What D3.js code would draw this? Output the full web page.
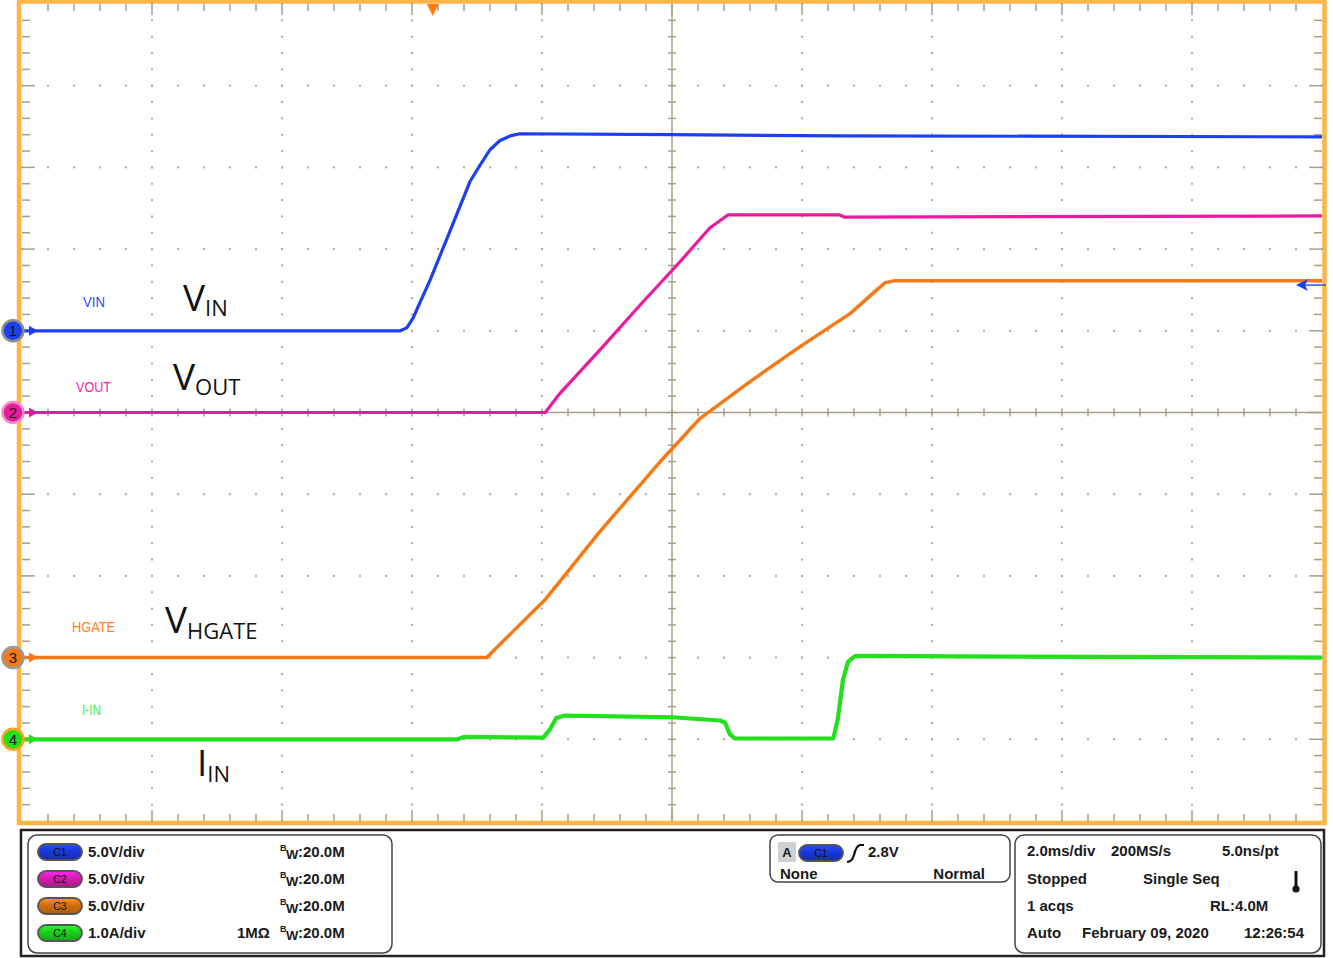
<!DOCTYPE html>
<html><head><meta charset="utf-8">
<script src="https://cdn.jsdelivr.net/npm/d3@7"></script>
<style>body{margin:0;background:#fff}svg{display:block}</style>
</head><body>
<svg id="c" width="1333" height="958"></svg>
<script>
// ---- data (time in ms, value in channel units) ----
const vinT  = [-10,-4.18,-4.08,-3.98,-3.88,-3.72,-3.42,-3.11,-2.95,-2.80,-2.65,-2.49,-2.34,0,2.58,10];
const vinV  = [0,0,0.18,0.80,1.71,3.12,6.06,9.12,10.16,11.08,11.63,11.93,12.06,12.0,11.93,11.87];
const voutT = [-10,-1.95,-1.85,-1.72,-1.08,-0.49,0.12,0.58,0.86,2.58,2.65,10];
const voutV = [0,0,0.52,1.19,3.95,6.58,9.21,11.29,12.09,12.09,11.96,12.03];
const hgT   = [-10,-2.85,-2.65,-1.95,-1.11,-0.18,0.43,1.2,1.97,2.74,3.12,3.28,3.43,10];
const hgV   = [0,0,0.80,3.55,7.71,12.0,14.63,16.89,19.03,21.05,22.40,22.95,23.07,23.07];
const iinT  = [-10,-3.3,-3.2,-1.98,-1.88,-1.78,-1.65,0,0.74,0.82,0.89,0.97,2.48,2.55,2.63,2.71,2.82,10];
const iinA  = [0,0,0.03,0.02,0.12,0.26,0.29,0.27,0.23,0.20,0.06,0.01,0.01,0.24,0.73,0.95,1.02,1.0];
const chNames   = ["VIN","VOUT","HGATE","I-IN"];
const chScale   = [5,5,5,1];        // units per division
const chOffset  = [1,0,-3,-4];      // divisions
const chColors  = ["#1e3ff0","#ea1a9e","#f57a16","#22e01c"];
const lblColors = ["#2b4dff","#ff22a8","#ff7f22","#3cef3c"];
const bigLabels = [["V","IN"],["V","OUT"],["V","HGATE"],["I","IN"]];
const chSettings = ["5.0V/div","5.0V/div","5.0V/div","1.0A/div"];
const bwText = "20.0M";
const trigLevel = "2.8V";
const timeRow1 = ["2.0ms/div","200MS/s","5.0ns/pt"];
const statRows = [["Stopped","Single Seq"],["1 acqs","RL:4.0M"],["Auto","February 09, 2020","12:26:54"]];

const svg = d3.select("#c");
const X0=22, X1=1322, Y0=4, Y1=821;
const x = d3.scaleLinear().domain([-10,10]).range([X0,X1]);
const y = d3.scaleLinear().domain([-5,5]).range([Y1,Y0]);
const gridC = "#a89f86";

// plot frame
svg.append("rect").attr("x",X0-3).attr("y",Y0-2.5).attr("width",X1-X0+5.5).attr("height",Y1-Y0+4.5)
  .attr("fill","#fff").attr("stroke","#ffb446").attr("stroke-width",4.5);

const g = svg.append("g");
// dotted grid
const minorX = d3.range(-10,10.001,0.4), minorY = d3.range(-5,5.001,0.2);
for (let d=-8; d<=8; d+=2) if (d!==0) {
  minorY.forEach(v=>g.append("rect").attr("x",x(d)-1).attr("y",y(v)-1).attr("width",2).attr("height",2).attr("fill","#b3ab94"));
}
for (let d=-4; d<=4; d+=1) if (d!==0) {
  minorX.forEach(v=>g.append("rect").attr("x",x(v)-1).attr("y",y(d)-1).attr("width",2).attr("height",2).attr("fill","#b3ab94"));
}
// edge ticks
minorX.forEach((v,i)=>{
  if (v<=-10||v>=10) return;
  const major = Math.abs(v/2-Math.round(v/2))<1e-6;
  const L = major?11:7;
  g.append("line").attr("x1",x(v)).attr("x2",x(v)).attr("y1",Y0).attr("y2",Y0+L).attr("stroke",gridC).attr("stroke-width",1.5);
  g.append("line").attr("x1",x(v)).attr("x2",x(v)).attr("y1",Y1).attr("y2",Y1-L).attr("stroke",gridC).attr("stroke-width",1.5);
  g.append("line").attr("x1",x(v)).attr("x2",x(v)).attr("y1",y(0)-4).attr("y2",y(0)+4).attr("stroke",gridC).attr("stroke-width",1.5);
});
minorY.forEach(v=>{
  if (v<=-5||v>=5) return;
  const major = Math.abs(v-Math.round(v))<1e-6;
  const L = major?13:8;
  g.append("line").attr("y1",y(v)).attr("y2",y(v)).attr("x1",X0).attr("x2",X0+L).attr("stroke",gridC).attr("stroke-width",1.5);
  g.append("line").attr("y1",y(v)).attr("y2",y(v)).attr("x1",X1).attr("x2",X1-L).attr("stroke",gridC).attr("stroke-width",1.5);
  g.append("line").attr("y1",y(v)).attr("y2",y(v)).attr("x1",x(0)-4).attr("x2",x(0)+4).attr("stroke",gridC).attr("stroke-width",1.5);
});
g.append("line").attr("x1",x(0)).attr("x2",x(0)).attr("y1",Y0).attr("y2",Y1).attr("stroke",gridC).attr("stroke-width",1.5);
g.append("line").attr("x1",X0).attr("x2",X1).attr("y1",y(0)).attr("y2",y(0)).attr("stroke",gridC).attr("stroke-width",1.5);

// traces
const series = [[vinT,vinV],[voutT,voutV],[hgT,hgV],[iinT,iinA]];
const widths = [3.2,3.2,3.5,4.2];
const line = d3.line().x(d=>x(d[0])).y(d=>y(d[1]));
series.forEach(([t,v],i)=>{
  const pts = t.map((tt,k)=>[tt, v[k]/chScale[i]+chOffset[i]]);
  g.append("path").attr("d",line(pts)).attr("fill","none").attr("stroke",chColors[i])
   .attr("stroke-width",widths[i]).attr("stroke-linejoin","round");
});

// trigger position marker
const tTrig = -3.68;
svg.append("path").attr("d",`M${x(tTrig)-6},${Y0} L${x(tTrig)+6},${Y0} L${x(tTrig)},${Y0+12} Z`).attr("fill","#ff7a10");
// trigger level arrow (right)
const trigDiv = 1 + 2.8/5;
svg.append("line").attr("x1",1300).attr("x2",1326).attr("y1",y(trigDiv)).attr("y2",y(trigDiv)).attr("stroke","#2a55ff").attr("stroke-width",1.5);
svg.append("path").attr("d",`M1296,${y(trigDiv)} L1308,${y(trigDiv)-6} L1305,${y(trigDiv)} L1308,${y(trigDiv)+6} Z`).attr("fill","#1e3ff0");

// channel markers
const ringC = ["#8d8d8d","#f090c8","#9a9a9a","#ffa41e"];
chOffset.forEach((o,i)=>{
  const cy = y(o);
  svg.append("path").attr("d",`M29,${cy-5} L38,${cy} L29,${cy+5} Z`).attr("fill",chColors[i]);
  svg.append("circle").attr("cx",13).attr("cy",cy).attr("r",10.5).attr("fill",chColors[i]).attr("stroke",ringC[i]).attr("stroke-width",2.5);
  svg.append("text").attr("x",13).attr("y",cy+5.5).attr("text-anchor","middle").attr("font-family","Liberation Sans, Arial, sans-serif")
     .attr("font-size",15).attr("fill","#111").text(i+1);
});

// small labels
const smallPos = [[83,307,22],[76,392,35],[72,632,43],[82,715,19]];
chNames.forEach((n,i)=>{
  svg.append("text").attr("x",smallPos[i][0]).attr("y",smallPos[i][1])
    .attr("font-family","'Liberation Sans Narrow','Arial Narrow','Liberation Sans',sans-serif")
    .attr("textLength",smallPos[i][2]).attr("lengthAdjust","spacingAndGlyphs")
    .attr("font-size",14.5).attr("fill",lblColors[i]).text(n);
});
// big labels
const bigPos = [[183,311,316],[173,390,395],[165,633,639],[197,776,782]];
bigLabels.forEach(([m,s],i)=>{
  const t = svg.append("text").attr("x",bigPos[i][0]).attr("y",bigPos[i][1]).attr("font-family","'Open Sans',sans-serif").attr("fill","#111");
  t.append("tspan").attr("font-size",37).text(m);
  t.append("tspan").attr("font-size",22).attr("dy",bigPos[i][2]-bigPos[i][1]).text(s);
});

// ---- bottom info panel ----
const FS = 15;
const P = svg.append("g").attr("font-family","'Liberation Sans',Arial,sans-serif").attr("font-weight","bold").attr("fill","#1a1a1a");
P.append("rect").attr("x",21).attr("y",830).attr("width",1303).attr("height",126).attr("fill","#fff").attr("stroke","#222").attr("stroke-width",2.5);
P.append("rect").attr("x",28).attr("y",835).attr("width",364).attr("height",118).attr("rx",9).attr("fill","#fff").attr("stroke","#444").attr("stroke-width",1.5);
P.append("rect").attr("x",770).attr("y",835).attr("width",240).attr("height",47).attr("rx",8).attr("fill","#fff").attr("stroke","#444").attr("stroke-width",1.5);
P.append("rect").attr("x",1015).attr("y",835).attr("width",306).attr("height",118).attr("rx",9).attr("fill","#fff").attr("stroke","#444").attr("stroke-width",1.5);

const defs = svg.append("defs");
const pillFill = ["#1a38d8","#d41caf","#d0700e","#1ccf1c"];
pillFill.forEach((c,i)=>{
  const gr = defs.append("linearGradient").attr("id","pg"+i).attr("x1",0).attr("x2",0).attr("y1",0).attr("y2",1);
  gr.append("stop").attr("offset","0%").attr("stop-color",d3.color(c).brighter(0.9));
  gr.append("stop").attr("offset","45%").attr("stop-color",c);
  gr.append("stop").attr("offset","100%").attr("stop-color",d3.color(c).darker(0.6));
});
function pill(cx,cy,i,label){
  P.append("rect").attr("x",cx-22).attr("y",cy-8).attr("width",44).attr("height",16).attr("rx",8)
   .attr("fill",`url(#pg${i})`).attr("stroke","#555").attr("stroke-width",1.8);
  P.append("text").attr("x",cx).attr("y",cy+4).attr("text-anchor","middle").attr("font-size",10.5).attr("font-weight","normal").attr("fill","#111").text(label);
}
const rowsY = [852,879,906,933];
chSettings.forEach((s,i)=>{
  pill(60,rowsY[i],i,"C"+(i+1));
  P.append("text").attr("x",88).attr("y",rowsY[i]+5).attr("font-size",FS).text(s);
  P.append("text").attr("x",280).attr("y",rowsY[i]-1).attr("font-size",9).text("B");
  P.append("text").attr("x",286).attr("y",rowsY[i]+7).attr("font-size",13).text("W");
  P.append("text").attr("x",298).attr("y",rowsY[i]+5).attr("font-size",FS).text(":"+bwText);
});
P.append("text").attr("x",237).attr("y",rowsY[3]+5).attr("font-size",FS).text("1M\u03A9");

// trigger box
P.append("rect").attr("x",778).attr("y",842).attr("width",18).attr("height",20).attr("fill","#d0d0d0");
P.append("text").attr("x",787).attr("y",857).attr("text-anchor","middle").attr("font-size",13).text("A");
pill(821,853,0,"C1");
P.append("path").attr("d","M847,862 Q852,862 854,855 Q856,846 860,845 L864,845").attr("fill","none").attr("stroke","#111").attr("stroke-width",2.2);
P.append("text").attr("x",868).attr("y",857).attr("font-size",FS).text(trigLevel);
P.append("text").attr("x",780).attr("y",879).attr("font-size",FS).text("None");
P.append("text").attr("x",985).attr("y",879).attr("text-anchor","end").attr("font-size",FS).text("Normal");

// timebase box
const tx = [[1027,1111,1222],[1027,1143],[1027,1210],[1027,1082,1244]];
timeRow1.forEach((s,j)=>P.append("text").attr("x",tx[0][j]).attr("y",856).attr("font-size",FS).text(s));
statRows.forEach((r,k)=>{
  r.forEach((s,j)=>P.append("text").attr("x",tx[k+1][j]).attr("y",rowsY[k+1]+5).attr("font-size",FS).text(s));
});
// thermometer icon
P.append("line").attr("x1",1296).attr("x2",1296).attr("y1",871).attr("y2",888).attr("stroke","#111").attr("stroke-width",3);
P.append("circle").attr("cx",1296).attr("cy",889).attr("r",3.6).attr("fill","#111");
</script>
</body></html>
